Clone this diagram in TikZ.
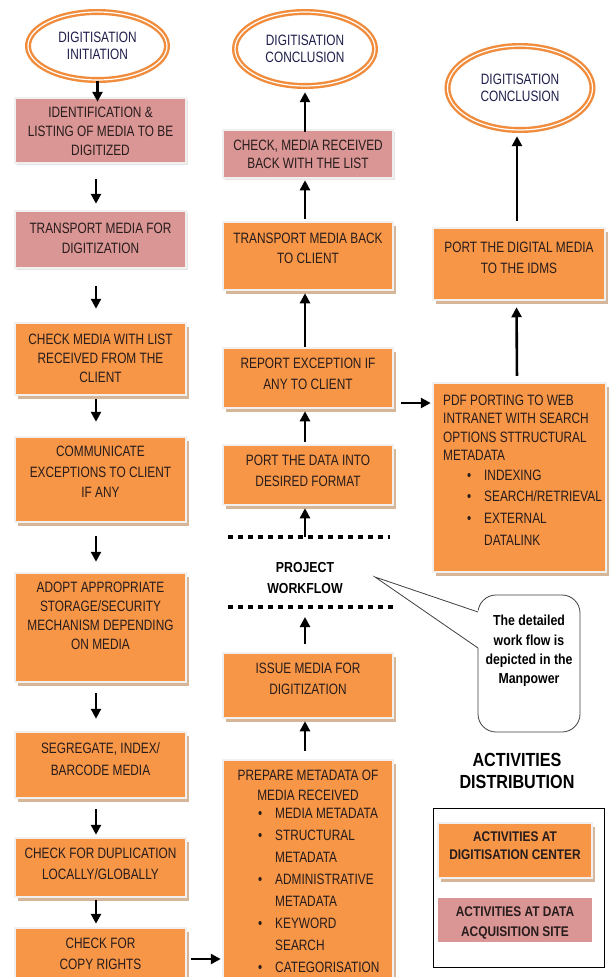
\documentclass[tikz,border=0pt]{standalone}
\usepackage{fontspec}
\setmainfont[FakeStretch=0.85]{Liberation Sans}
\newfontfamily\narrowfont[FakeStretch=0.79]{Liberation Sans}
\usetikzlibrary{shapes.geometric,arrows.meta,shadows}
\definecolor{orng}{RGB}{247,150,70}
\definecolor{pinkc}{RGB}{217,150,148}
\definecolor{tanc}{RGB}{214,182,152}
\definecolor{greyshadow}{RGB}{228,228,228}
\definecolor{boxedge}{RGB}{242,240,238}
\definecolor{ellc}{RGB}{240,140,60}
\definecolor{txtc}{RGB}{40,28,28}
\definecolor{navy}{RGB}{30,30,75}
\newcommand\mybul{\makebox[17pt][l]{\textbullet}}
\newcommand\myind{\hspace*{17pt}}
\tikzset{
  obox/.style={fill=orng, draw=boxedge, line width=2.5pt, inner sep=0pt,
    drop shadow={shadow xshift=3pt, shadow yshift=-3.5pt, fill=tanc, opacity=1}},
  pbox/.style={fill=pinkc, draw=boxedge, line width=2.5pt, inner sep=0pt,
    drop shadow={shadow xshift=2pt, shadow yshift=-2pt, fill=greyshadow, opacity=1}},
  txt/.style={align=center, text=txtc, inner sep=0pt, font=\narrowfont\fontsize{15}{19}\selectfont},
  txtw/.style={align=center, text=txtc, inner sep=0pt, font=\narrowfont\fontsize{15}{21.5}\selectfont},
  ell/.style={ellipse, draw=ellc, line width=2.4pt, double=white, double distance=1.2pt,
    fill=white, inner sep=0pt, align=center, text=navy, font=\narrowfont\fontsize{15}{17}\selectfont},
  arr/.style={-{Triangle[width=10pt,length=10pt]}, line width=2.6pt, black},
  dotline/.style={line width=4.5pt, dash pattern=on 5pt off 5pt},
  boldtxt/.style={align=center, inner sep=0pt, font=\bfseries\fontsize{14.5}{20}\selectfont},
}
\begin{document}
\begin{tikzpicture}[x=1pt,y=-1pt]
\useasboundingbox (0,0) rectangle (610,977);
\fill[white] (0,0) rectangle (610,977);

% ---------- ellipses ----------
\node[ell, minimum width=139pt, minimum height=68pt] (E1) at (97.5,46) {DIGITISATION\\INITIATION};
\node[ell, minimum width=140pt, minimum height=74pt] (E2) at (305,49) {DIGITISATION\\CONCLUSION};
\node[ell, minimum width=145pt, minimum height=84pt] (E3) at (520,88) {DIGITISATION\\CONCLUSION};

% ---------- left column ----------
\node[pbox, minimum width=171pt, minimum height=65pt] (L1) at (100.5,130.5) {};
\node[txt] (tL1) at (100.5,131) {IDENTIFICATION \&\\LISTING OF MEDIA TO BE\\DIGITIZED};
\node[pbox, minimum width=171pt, minimum height=57pt] (L2) at (100.5,239.5) {};
\node[txt, font=\narrowfont\fontsize{15}{20}\selectfont] (tL2) at (100.5,238) {TRANSPORT MEDIA FOR\\DIGITIZATION};
\node[obox, minimum width=171pt, minimum height=72pt] (L3) at (100.5,359) {};
\node[txt] (tL3) at (100.5,358) {CHECK MEDIA WITH LIST\\RECEIVED FROM THE\\CLIENT};
\node[obox, minimum width=171pt, minimum height=85pt] (L4) at (100.5,479.5) {};
\node[txt, font=\narrowfont\fontsize{15}{20.5}\selectfont] (tL4) at (100.5,472) {COMMUNICATE\\EXCEPTIONS TO CLIENT\\IF ANY};
\node[obox, minimum width=171pt, minimum height=109pt] (L5) at (100.5,627.5) {};
\node[txt] (tL5) at (100.5,616) {ADOPT APPROPRIATE\\STORAGE/SECURITY\\MECHANISM DEPENDING\\ON MEDIA};
\node[obox, minimum width=171pt, minimum height=66pt] (L6) at (100.5,765) {};
\node[txtw] (tL6) at (100.5,759) {SEGREGATE, INDEX/\\BARCODE MEDIA};
\node[obox, minimum width=171pt, minimum height=59pt] (L7) at (100.5,867.5) {};
\node[txtw] (tL7) at (100.5,864) {CHECK FOR DUPLICATION\\LOCALLY/GLOBALLY};
\node[obox, minimum width=171pt, minimum height=62pt] (L8) at (100.5,959) {};
\node[txtw] (tL8) at (100.5,954) {CHECK FOR\\COPY RIGHTS};

% ---------- middle column ----------
\node[pbox, minimum width=170pt, minimum height=48pt] (M1) at (308,154) {};
\node[txt, font=\narrowfont\fontsize{15}{18}\selectfont] (tM1) at (308,154) {CHECK, MEDIA RECEIVED\\BACK WITH THE LIST};
\node[obox, minimum width=170pt, minimum height=68pt] (M2) at (308,256) {};
\node[txt, font=\narrowfont\fontsize{15}{20}\selectfont] (tM2) at (308,248) {TRANSPORT MEDIA BACK\\TO CLIENT};
\node[obox, minimum width=170pt, minimum height=60pt] (M3) at (308,378) {};
\node[txtw] (tM3) at (308,374) {REPORT EXCEPTION IF\\ANY TO CLIENT};
\node[obox, minimum width=170pt, minimum height=60pt] (M4) at (308,475) {};
\node[txtw] (tM4) at (308,471) {PORT THE DATA INTO\\DESIRED FORMAT};

\coordinate (dtl) at (228,537);
\coordinate (dtr) at (390,537);
\coordinate (dtm) at (305,537);
\coordinate (dbl) at (228,607);
\coordinate (dbr) at (394,607);
\coordinate (dbm) at (305,607);
\draw[dotline] (dtl) -- (dtr);
\draw[dotline] (dbl) -- (dbr);
\node[boldtxt, font=\bfseries\fontsize{14.5}{21}\selectfont] (pw) at (305,578) {PROJECT\\WORKFLOW};

\node[obox, minimum width=170pt, minimum height=65pt] (M5) at (308,685.5) {};
\node[txtw] (tM5) at (308,679) {ISSUE MEDIA FOR\\DIGITIZATION};
\node[obox, minimum width=170pt, minimum height=230pt] (M6) at (308,875) {};
\node[txt, font=\narrowfont\fontsize{15}{20}\selectfont] (tM6) at (308,785) {PREPARE METADATA OF\\MEDIA RECEIVED};
\node[txt, align=left, anchor=north west, font=\narrowfont\fontsize{15}{22}\selectfont] (tM6b) at (258,807.5)
  {\mybul MEDIA METADATA\\\mybul STRUCTURAL\\\myind METADATA\\\mybul ADMINISTRATIVE\\\myind METADATA\\\mybul KEYWORD\\\myind SEARCH\\\mybul CATEGORISATION};

% ---------- right column ----------
\node[obox, minimum width=172pt, minimum height=72pt] (R1) at (519,264) {};
\node[txtw, font=\narrowfont\fontsize{15}{21}\selectfont] (tR1) at (519,257.5) {PORT THE DIGITAL MEDIA\\TO THE IDMS};
\node[obox, minimum width=173pt, minimum height=189pt] (R2) at (519.5,477.5) {};
\node[txt, align=left, anchor=north west, font=\narrowfont\fontsize{15}{18.5}\selectfont] (tR2) at (443,394.5)
  {PDF PORTING TO WEB\\INTRANET WITH SEARCH\\OPTIONS STTRUCTURAL\\METADATA};
\node[txt, align=left, anchor=north west, font=\narrowfont\fontsize{15}{21.7}\selectfont] (tR2b) at (467,469.5)
  {\mybul INDEXING\\\mybul SEARCH/RETRIEVAL\\\mybul EXTERNAL\\\myind DATALINK};

% ---------- callout ----------
\node[draw=black!75, line width=0.8pt, fill=white, rounded corners=18pt,
      minimum width=102pt, minimum height=137pt] (co) at (529,663.5) {};
\coordinate (tip) at (375,577);
\coordinate (p1) at (478,612);
\coordinate (p2) at (478,648);
\fill[white] (480,611) -- (tip) -- (480,649) -- cycle;
\draw[black!75, line width=0.8pt] (p1) -- (tip) -- (p2);
\node[boldtxt, font=\bfseries\fontsize{14.5}{19.3}\selectfont] (tco) at (529,651)
  {The detailed\\work flow is\\depicted in the\\Manpower};

% ---------- legend ----------
\node[boldtxt, font=\bfseries\fontsize{19}{22}\selectfont] (ad) at (517,771) {ACTIVITIES\\DISTRIBUTION};
\node[draw=black, line width=1pt, minimum width=171pt, minimum height=159pt] (LG) at (518.5,887.5) {};
\node[obox, minimum width=154pt, minimum height=55pt] (LO) at (515,850.5) {};
\node[boldtxt, text=txtc, font=\bfseries\fontsize{14}{18}\selectfont] (tLO) at (515,846) {ACTIVITIES AT\\DIGITISATION CENTER};
\node[fill=pinkc, inner sep=0pt, minimum width=154pt, minimum height=44pt] (LP) at (515,920) {};
\node[boldtxt, text=txtc, font=\bfseries\fontsize{14}{20}\selectfont] (tLP) at (515,923) {ACTIVITIES AT DATA\\ACQUISITION SITE};

% ---------- arrows: left ----------
\draw[arr, shorten >=-5pt] (E1.south) -- (E1.south |- L1.north);
\draw[arr, shorten <=15pt, shorten >=6pt] ([xshift=-4.5pt]L1.south) -- ([xshift=-4.5pt]L2.north);
\draw[arr, shorten <=17pt, shorten >=13pt] ([xshift=-4.5pt]L2.south) -- ([xshift=-4.5pt]L3.north);
\draw[arr, shorten <=3pt, shorten >=14pt] ([xshift=-4.5pt]L3.south) -- ([xshift=-4.5pt]L4.north);
\draw[arr, shorten <=13pt, shorten >=10pt] ([xshift=-4.5pt]L4.south) -- ([xshift=-4.5pt]L5.north);
\draw[arr, shorten <=10pt, shorten >=12pt] ([xshift=-4.5pt]L5.south) -- ([xshift=-4.5pt]L6.north);
\draw[arr, shorten <=10pt, shorten >=2pt] ([xshift=-4.5pt]L6.south) -- ([xshift=-4.5pt]L7.north);
\draw[arr, shorten <=2pt, shorten >=3pt] ([xshift=-4.5pt]L7.south) -- ([xshift=-4.5pt]L8.north);

% ---------- arrows: middle ----------
\draw[arr, shorten <=-3pt, shorten >=5pt] ([xshift=-3pt]M1.north) -- (E2.south);
\draw[arr, shorten <=2pt, shorten >=1pt] ([xshift=-3pt]M2.north) -- ([xshift=-3pt]M1.south);
\draw[arr, shorten <=0pt, shorten >=2pt] ([xshift=-3pt]M3.north) -- ([xshift=-3pt]M2.south);
\draw[arr, shorten <=2pt, shorten >=2pt] ([xshift=-3pt]M4.north) -- ([xshift=-3pt]M3.south);
\draw[arr, shorten >=2pt] (dtm) -- (dtm |- M4.south);
\draw[arr, shorten <=8pt, shorten >=10pt] ([xshift=-3pt]M5.north) -- (dbm);
\draw[arr, shorten <=8pt, shorten >=2pt] ([xshift=-3pt]M6.north) -- ([xshift=-3pt]M5.south);

% ---------- arrows: right ----------
\draw[arr, shorten <=6pt, shorten >=5pt] ([xshift=-2pt]R1.north) -- ([xshift=-3pt]E3.south);
\draw[arr, shorten <=6pt, shorten >=6pt] ([xshift=-2.5pt]R2.north) -- ([xshift=-2.5pt]R1.south);

% ---------- horizontal arrows ----------
\coordinate (h1) at ([yshift=-25pt]M3.east);
\draw[arr, shorten <=7pt, shorten >=1pt] (h1) -- (h1 -| R2.west);
\draw[arr, shorten <=4pt, shorten >=1pt] (L8.east) -- (L8.east -| M6.west);
\end{tikzpicture}
\end{document}
